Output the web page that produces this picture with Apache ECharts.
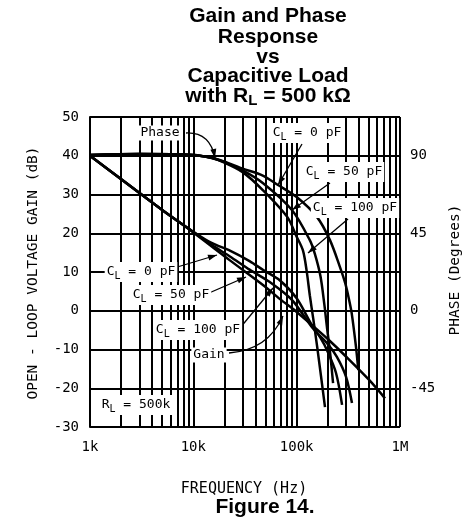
<!DOCTYPE html>
<html><head><meta charset="utf-8">
<script src="https://cdn.jsdelivr.net/npm/echarts@6/dist/echarts.min.js"></script>
<style>html,body{margin:0;padding:0;background:#fff}#c{width:466px;height:527px}</style>
</head><body><div id="c"></div>
<script>
// ---- tick labels ----
const xTickLabels = { 3: '1k', 4: '10k', 5: '100k', 6: '1M' };
const minorFreqs = [2e3,3e3,4e3,5e3,6e3,7e3,8e3,9e3, 2e4,3e4,4e4,5e4,6e4,7e4,8e4,9e4, 2e5,3e5,4e5,5e5,6e5,7e5,8e5,9e5];
const phaseTicks = [-45, 0, 45, 90];

// ---- gain (dB) ----
const gainFreq0  = [1000, 2000, 5000, 10000, 22600, 47500, 69000, 100000, 145000, 200000, 305000, 500000, 716000];
const gainDb0    = [40, 34, 26, 20.2, 13, 6.6, 3.0, -0.3, -4.0, -7.3, -12, -17.8, -22.6];
const gainFreq50 = [1000, 5000, 10000, 15000, 22600, 35000, 55000, 90000, 144000, 200000, 245000, 300000, 343000];
const gainDb50   = [40, 26, 20.3, 17, 14, 10.6, 7.4, 2.8, -4.6, -8.6, -11.9, -17, -23.8];
const gainFreq100= [1000, 5000, 10000, 15000, 22600, 35000, 47500, 69000, 100000, 140000, 170000, 196000, 240000, 275000];
const gainDb100  = [40, 26, 20.4, 17.5, 15.5, 12.8, 10.5, 7.8, 3.2, -3.7, -7, -10.1, -16, -24.3];

// ---- phase (degrees) ----
const phaseFreq0  = [1000, 3000, 10000, 15000, 20000, 30000, 47000, 66000, 100000, 157000, 210000, 262000, 295000, 320000, 341000, 375000, 395000];
const phaseDeg0   = [90.5, 91, 90.5, 88.8, 86.5, 82.5, 78.5, 73, 66, 54.5, 41, 25.5, 16, 7, -1.5, -21, -34.5];
const phaseFreq50 = [1000, 3000, 10000, 15000, 20000, 30000, 47000, 90000, 134000, 150000, 170000, 185000, 196000, 212000, 225000];
const phaseDeg50  = [90.5, 91, 90.5, 88.8, 86.3, 81.5, 74.2, 58.5, 41, 33, 20, 4, -9, -26, -42];
const phaseFreq100= [1000, 3000, 10000, 15000, 20000, 30000, 47000, 81000, 100000, 115000, 125000, 134000, 145000, 158000, 172000, 188000];
const phaseDeg100 = [90.5, 91, 90.5, 88.7, 86, 80.5, 70.1, 54.5, 43, 35, 23, 9, -5, -21, -38, -56];

const zip = (a, b) => a.map((v, i) => [v, b[i]]);
const MONO = '"DejaVu Sans Mono"';
const BOLD = '"Liberation Sans", Arial, sans-serif';

function curve(data, yAxisIndex) {
  return { type: 'line', data, yAxisIndex, showSymbol: false, smooth: 0.3, silent: true,
    lineStyle: { color: '#000', width: 2.5 }, z: 5 };
}

const chart = echarts.init(document.getElementById('c'), null, { renderer: 'canvas' });

function arrow(x1, y1, x2, y2, cx, cy) {
  const els = [];
  const st = { stroke: '#000', lineWidth: 1.3, fill: null };
  if (cx === undefined) els.push({ type: 'line', shape: { x1, y1, x2, y2 }, style: st, z: 100 });
  else els.push({ type: 'bezierCurve', shape: { x1, y1, x2, y2, cpx1: cx, cpy1: cy }, style: st, z: 100 });
  const sx = cx === undefined ? x1 : cx, sy = cy === undefined ? y1 : cy;
  let dx = x2 - sx, dy = y2 - sy; const d = Math.hypot(dx, dy); dx /= d; dy /= d;
  const L = 9, W = 3;
  const bx = x2 - dx * L, by = y2 - dy * L;
  els.push({ type: 'polygon', shape: { points: [[x2, y2], [bx - dy * W, by + dx * W], [bx + dy * W, by - dx * W]] },
    style: { fill: '#000' }, z: 100 });
  return els;
}
const subRich = {
  c: { fontFamily: MONO, fontSize: 13, fill: '#000' },
  s: { fontFamily: MONO, fontSize: 10, fill: '#000', padding: [8, 0, 0, 0] },
};
function label(text, x, y, rich) {
  return { type: 'text', x, y, z: 101, style: { text, fill: '#000', fontFamily: MONO, fontSize: 13,
    align: 'center', verticalAlign: 'middle', backgroundColor: '#fff', padding: [1, 2],
    rich: rich ? subRich : undefined } };
}
function cl(v) { return '{c|C}{s|L}{c| = ' + v + ' pF}'; }
function titleLine(text, y, rich) {
  return { type: 'text', x: 268, y, z: 101, style: { text, fill: '#000', font: 'bold 21px ' + BOLD,
    align: 'center', verticalAlign: 'middle', rich } };
}

const graphics = [].concat(
  titleLine('Gain and Phase', 16),
  titleLine('Response', 37),
  titleLine('vs', 57),
  titleLine('Capacitive Load', 76),
  titleLine('{b|with R}{bs|L}{b| = 500 kΩ}', 96, {
    b: { font: 'bold 21px ' + BOLD, fill: '#000' },
    bs: { font: 'bold 15px ' + BOLD, fill: '#000', padding: [10, 0, 0, 0] } }),
  { type: 'text', x: 265, y: 507, style: { text: 'Figure 14.', fill: '#000', font: 'bold 21px ' + BOLD, align: 'center', verticalAlign: 'middle' } },
  { type: 'text', x: 244, y: 489, style: { text: 'FREQUENCY (Hz)', fill: '#000', fontFamily: MONO, fontSize: 15, align: 'center', verticalAlign: 'middle' } },
  { type: 'text', x: 33, y: 273, rotation: Math.PI / 2, style: { text: 'OPEN - LOOP VOLTAGE GAIN (dB)', fill: '#000', fontFamily: MONO, fontSize: 14.5, align: 'center', verticalAlign: 'middle' } },
  { type: 'text', x: 455, y: 270, rotation: Math.PI / 2, style: { text: 'PHASE (Degrees)', fill: '#000', fontFamily: MONO, fontSize: 14.5, align: 'center', verticalAlign: 'middle' } },
  label('Phase', 160, 133),
  arrow(186, 133, 215, 158, 210, 132),
  label(cl(0), 307, 133, true),
  arrow(302, 144, 278, 185),
  label(cl(50), 344, 172, true),
  arrow(330, 183, 292, 210),
  label(cl(100), 355, 208, true),
  arrow(348, 219, 308, 253),
  label(cl(0), 141, 272, true),
  arrow(174, 268, 217, 255),
  label(cl(50), 171, 295, true),
  arrow(209, 293, 246, 277),
  label(cl(100), 198, 330, true),
  arrow(240, 328, 273, 288),
  label('Gain', 209, 355),
  arrow(229, 353, 283, 316, 268, 350),
  label('{c|R}{s|L}{c| = 500k}', 136, 405, true)
);

const option = {
  animation: false,
  backgroundColor: '#fff',
  grid: { left: 90, right: 66, top: 117, bottom: 100 },
  xAxis: {
    type: 'log', logBase: 10, min: 1000, max: 1000000,
    axisLine: { show: true, lineStyle: { color: '#000', width: 2 } },
    axisTick: { show: false },
    splitLine: { show: true, lineStyle: { color: '#000', width: 2 } },
    axisLabel: { color: '#000', fontFamily: MONO, fontSize: 14, margin: 13,
      formatter: v => xTickLabels[Math.round(Math.log10(v))] || '' }
  },
  yAxis: [
    { type: 'value', min: -30, max: 50, interval: 10,
      axisLine: { show: true, lineStyle: { color: '#000', width: 2 } },
      axisTick: { show: false },
      splitLine: { show: true, lineStyle: { color: '#000', width: 2 } },
      axisLabel: { color: '#000', fontFamily: MONO, fontSize: 14, margin: 11 } },
    { type: 'value', min: -67.5, max: 112.5, position: 'right',
      axisLine: { show: false }, axisTick: { show: false }, splitLine: { show: false },
      axisLabel: { customValues: phaseTicks, color: '#000', fontFamily: MONO, fontSize: 14, margin: 10 } }
  ],
  series: [
    Object.assign(curve(zip(gainFreq0, gainDb0), 0), {
      markLine: { silent: true, symbol: ['none', 'none'], label: { show: false }, animation: false,
        lineStyle: { color: '#000', width: 2, type: 'solid' },
        data: minorFreqs.map(v => ({ xAxis: v })) } }),
    curve(zip(gainFreq50, gainDb50), 0),
    curve(zip(gainFreq100, gainDb100), 0),
    curve(zip(phaseFreq0, phaseDeg0), 1),
    curve(zip(phaseFreq50, phaseDeg50), 1),
    curve(zip(phaseFreq100, phaseDeg100), 1)
  ],
  graphic: { elements: graphics }
};
chart.setOption(option);
</script></body></html>
